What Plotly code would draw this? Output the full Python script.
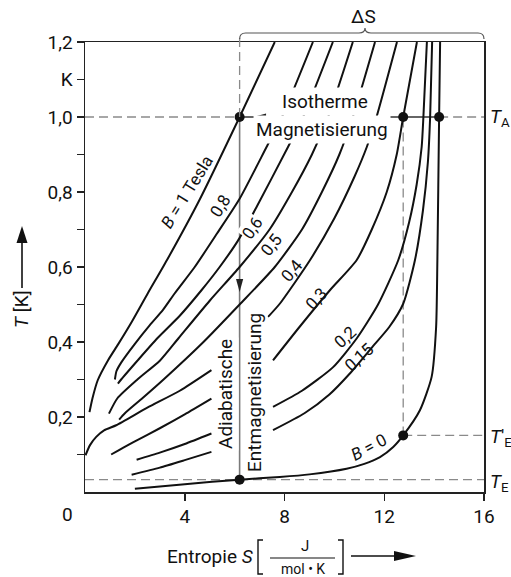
import plotly.graph_objects as go

# ---------------- data: entropy S [J/(mol K)] vs temperature T [K] ----------------
S_B10 = [0.18, 0.30, 0.51, 0.92, 1.32, 1.86, 2.52, 3.3, 4.6, 6.2, 7.61]
T_B10 = [0.213, 0.25, 0.298, 0.351, 0.393, 0.452, 0.53, 0.62, 0.78, 1.0, 1.2]

S_B08 = [1.2, 1.26, 1.45, 2.0, 2.6, 3.12, 3.6, 4.4, 5.3, 6.2, 7.28, 7.9, 9.14]
T_B08 = [0.300, 0.322, 0.345, 0.395, 0.445, 0.485, 0.53, 0.60, 0.69, 0.782, 0.92, 1.0, 1.2]

S_B07 = [1.32, 1.45, 2.1, 2.9, 3.8, 4.67, 5.4, 6.14, 6.88, 8.14, 8.75, 9.94]
T_B07 = [0.289, 0.30, 0.35, 0.41, 0.47, 0.538, 0.60, 0.671, 0.76, 0.92, 1.0, 1.2]

S_B06 = [0.96, 1.3, 2.1, 3.0, 3.75, 5.0, 6.2, 7.4, 8.3, 9.1, 9.75, 10.74]
T_B06 = [0.209, 0.25, 0.30, 0.35, 0.41, 0.51, 0.60, 0.70, 0.80, 0.90, 1.0, 1.2]

S_B05 = [1.37, 1.6, 2.3, 3.15, 4.75, 6.2, 7.61, 8.7, 9.5, 10.2, 10.74, 11.63]
T_B05 = [0.193, 0.21, 0.25, 0.30, 0.40, 0.50, 0.60, 0.70, 0.80, 0.90, 1.0, 1.2]

S_B04 = [0.02, 0.2, 0.45, 0.78, 1.25, 2.5, 3.8, 5.07, None, 7.34, 7.81, 9.02, 10.0, 10.8, 11.3, 11.69, 12.51]
T_B04 = [0.098, 0.125, 0.147, 0.165, 0.178, 0.225, 0.27, 0.325, None, 0.467, 0.502, 0.618, 0.73, 0.84, 0.92, 1.0, 1.2]

S_B03 = [1.05, 2.0, 3.0, 4.0, 5.07, None, 7.54, 8.6, 9.82, 10.89, 11.5, 12.1, 12.5, 12.76, 13.31]
T_B03 = [0.10, 0.135, 0.17, 0.207, 0.249, None, 0.351, 0.44, 0.538, 0.618, 0.70, 0.80, 0.90, 1.0, 1.2]

S_B02 = [2.07, 3.0, 4.0, 5.07, None, 7.54, 8.7, 9.95, 10.9, 11.75, 12.56, 13.0, 13.3, 13.5, 13.57, 13.71]
T_B02 = [0.086, 0.105, 0.128, 0.156, None, 0.227, 0.27, 0.333, 0.41, 0.50, 0.618, 0.72, 0.82, 0.92, 1.0, 1.2]

S_B015 = [1.87, 3.0, 4.0, 5.07, None, 7.54, 8.8, 9.8, 10.62, 11.5, 12.2, 12.76, 13.23, 13.55, 13.75, 13.84, 13.92]
T_B015 = [0.046, 0.065, 0.085, 0.107, None, 0.165, 0.21, 0.26, 0.316, 0.385, 0.44, 0.502, 0.618, 0.75, 0.88, 1.0, 1.2]

S_B0 = [2.0, 4.0, 6.2, 7.81, 9.0, 10.49, 11.2, 11.83, 12.36, 12.76, 13.43, 13.90, 14.08, 14.13, 14.2, 14.24]
T_B0 = [0.009, 0.021, 0.033, 0.040, 0.047, 0.062, 0.075, 0.093, 0.12, 0.151, 0.218, 0.307, 0.44, 0.618, 1.0, 1.2]

curves = [(S_B10, T_B10), (S_B08, T_B08), (S_B07, T_B07), (S_B06, T_B06), (S_B05, T_B05),
          (S_B04, T_B04), (S_B03, T_B03), (S_B02, T_B02), (S_B015, T_B015), (S_B0, T_B0)]

# process points
T_A = 1.0            # start temperature
T_E = 0.033          # end temperature (from B = 1 T)
T_E2 = 0.151         # end temperature (from B = 0,3 T)
S_1 = 6.2            # entropy on B = 1 T at T_A
S_2 = 12.76          # entropy on B = 0,3 T at T_A
S_0 = 14.2           # entropy on B = 0 at T_A
proc_S = [S_1, S_2, S_0, S_2, S_1]
proc_T = [T_A, T_A, T_A, T_E2, T_E]

# curve labels: (text, S, T, angle, knockout)
curve_labels = [("<i>B</i> = 1 Tesla", 4.08, 0.80, -58, False),
                ("0,8", 5.41, 0.763, -58, False),
                ("0,6", 6.70, 0.704, -55, True),
                ("0,5", 7.46, 0.659, -52, False),
                ("0,4", 8.30, 0.592, -50, False),
                ("0,3", 9.26, 0.515, -47, False),
                ("0,2", 10.43, 0.413, -42, False),
                ("0,15", 10.99, 0.36, -42, False),
                ("<i>B</i> = 0", 11.39, 0.12, -28, False)]

y_tickvals = [0.2, 0.4, 0.6, 0.8, 1.0, 1.1, 1.2]
y_ticktext = ["0,2", "0,4", "0,6", "0,8", "1,0", "K", "1,2"]
y_minorvals = [0.1, 0.3, 0.5, 0.7, 0.9]
x_tickvals = [4, 8, 12, 16]
x_ticktext = ["4", "8", "12", "16"]

# ---------------- layout geometry ----------------
W, H = 511, 577
ML, MR, MT, MB = 85, 27, 42, 85
PW, PH = W - ML - MR, H - MT - MB
XMAX, YMAX = 16, 1.2
FONT = "Roboto"
INK = "#111111"
GRAY = "#8a8a8a"


def X(S):
    return ML + S * PW / XMAX


def Y(T):
    return MT + PH - T * PH / YMAX


def P(px, py):
    return (px - ML) / PW, (MT + PH - py) / PH


def path_px(pts, close=False):
    s = ""
    for i, (a, b) in enumerate(pts):
        x, y = P(a, b)
        s += ("M" if i == 0 else "L") + f"{x:.5f},{y:.5f} "
    return s + ("Z" if close else "")


def head(tip, d, L, w):
    tx, ty = tip
    dx, dy = d
    bx, by = tx - L * dx, ty - L * dy
    nx, ny = -dy, dx
    return path_px([(tx, ty), (bx + w * nx, by + w * ny), (bx - w * nx, by - w * ny)], close=True)


fig = go.Figure()

for S, T in curves:
    fig.add_trace(go.Scatter(x=S, y=T, mode="lines", line=dict(color=INK, width=2, shape="spline", smoothing=0.6),
                             connectgaps=False, hoverinfo="skip", showlegend=False))

shapes = []
dash = "9px,5px"
# dashed guide lines
shapes.append(dict(type="line", xref="x", yref="y", x0=0, x1=S_1, y0=T_A, y1=T_A,
                   line=dict(color=GRAY, width=1.3, dash=dash), layer="below"))
shapes.append(dict(type="line", xref="x", yref="y", x0=S_0, x1=XMAX, y0=T_A, y1=T_A,
                   line=dict(color=GRAY, width=1.3, dash=dash), layer="below"))
shapes.append(dict(type="line", xref="x", yref="y", x0=0, x1=XMAX, y0=T_E, y1=T_E,
                   line=dict(color=GRAY, width=1.3, dash=dash), layer="below"))
shapes.append(dict(type="line", xref="x", yref="y", x0=S_2, x1=XMAX, y0=T_E2, y1=T_E2,
                   line=dict(color=GRAY, width=1.3, dash=dash), layer="below"))
shapes.append(dict(type="line", xref="x", yref="y", x0=S_2, x1=S_2, y0=T_E2, y1=T_A,
                   line=dict(color=GRAY, width=1.3, dash=dash), layer="below"))
shapes.append(dict(type="line", xref="paper", yref="paper", x0=S_1 / XMAX, x1=S_1 / XMAX,
                   y0=T_A / YMAX, y1=P(0, 36)[1], line=dict(color=GRAY, width=1.3, dash=dash)))
# adiabatic demagnetisation (vertical) and isothermal magnetisation (horizontal)
shapes.append(dict(type="line", xref="x", yref="y", x0=S_1, x1=S_1, y0=T_E, y1=T_A,
                   line=dict(color="#7a7a7a", width=1.6), layer="below"))
shapes.append(dict(type="line", xref="x", yref="y", x0=S_1, x1=7.54, y0=T_A, y1=T_A,
                   line=dict(color="#333333", width=1.5), layer="below"))
shapes.append(dict(type="line", xref="x", yref="y", x0=11.39, x1=S_0, y0=T_A, y1=T_A,
                   line=dict(color="#333333", width=1.5), layer="below"))
# arrow heads on process lines
shapes.append(dict(type="path", xref="paper", yref="paper",
                   path=head((X(6.74), Y(T_A)), (-1, 0), 13, 3.6), fillcolor="#222", line=dict(width=0)))
shapes.append(dict(type="path", xref="paper", yref="paper",
                   path=head((X(S_1), Y(0.533)), (0, 1), 13, 3.6), fillcolor="#222", line=dict(width=0)))
# Delta S brace
xa, xb, xc, yb = X(S_1), X(XMAX), 365, 33
bp = P(xa, 39); q1 = P(xa, yb); p1 = P(xa + 6, yb); p2 = P(xc - 6, yb); q2 = P(xc, yb); p3 = P(xc, 28)
p4 = P(xc + 6, yb); p5 = P(xb - 6, yb); q3 = P(xb, yb); p6 = P(xb, 39)
brace_path = (f"M{bp[0]:.5f},{bp[1]:.5f} Q{q1[0]:.5f},{q1[1]:.5f} {p1[0]:.5f},{p1[1]:.5f} "
              f"L{p2[0]:.5f},{p2[1]:.5f} Q{q2[0]:.5f},{q2[1]:.5f} {p3[0]:.5f},{p3[1]:.5f} "
              f"Q{q2[0]:.5f},{q2[1]:.5f} {p4[0]:.5f},{p4[1]:.5f} L{p5[0]:.5f},{p5[1]:.5f} "
              f"Q{q3[0]:.5f},{q3[1]:.5f} {p6[0]:.5f},{p6[1]:.5f}")
shapes.append(dict(type="path", xref="paper", yref="paper", path=brace_path, line=dict(color="#555", width=1.2)))

# axis title decorations
shapes.append(dict(type="path", xref="paper", yref="paper", path=path_px([(22, 288), (22, 240)]),
                   line=dict(color=INK, width=1.6)))
shapes.append(dict(type="path", xref="paper", yref="paper", path=head((22, 226), (0, -1), 17, 5.5),
                   fillcolor=INK, line=dict(width=0)))
shapes.append(dict(type="path", xref="paper", yref="paper", path=path_px([(351, 556), (400, 556)]),
                   line=dict(color=INK, width=1.6)))
shapes.append(dict(type="path", xref="paper", yref="paper", path=head((416, 556), (1, 0), 22, 5),
                   fillcolor=INK, line=dict(width=0)))
shapes.append(dict(type="path", xref="paper", yref="paper", path=path_px([(263, 540), (258, 540), (258, 574), (263, 574)]),
                   line=dict(color=INK, width=1.4)))
shapes.append(dict(type="path", xref="paper", yref="paper", path=path_px([(338, 540), (343, 540), (343, 574), (338, 574)]),
                   line=dict(color=INK, width=1.4)))
shapes.append(dict(type="path", xref="paper", yref="paper", path=path_px([(270, 558), (335, 558)]),
                   line=dict(color=INK, width=1.2)))

# process points (dots)
fig.add_trace(go.Scatter(x=proc_S, y=proc_T, mode="markers", marker=dict(color=INK, size=10),
                         hoverinfo="skip", showlegend=False, cliponaxis=False))

ann = []
for txt, s, t, ang, ko in curve_labels:
    d = dict(x=s, y=t, xref="x", yref="y", text=txt, showarrow=False, textangle=ang,
             font=dict(family=FONT, size=17, color=INK))
    if ko:
        d.update(bgcolor="white", borderpad=0)
    ann.append(d)


def pann(txt, px, py, size=19, angle=0, bg=None, xanchor="center", pad=1, yanchor="middle"):
    x, y = P(px, py)
    d = dict(x=x, y=y, xref="paper", yref="paper", text=txt, showarrow=False, textangle=angle,
             font=dict(family=FONT, size=size, color=INK), xanchor=xanchor, yanchor=yanchor)
    if bg:
        d.update(bgcolor=bg, borderpad=pad)
    return d


ann += [
    pann("Isotherme", 325, 102, bg="white", pad=2),
    pann("Magnetisierung", 322, 129, bg="white", pad=2),
    pann("Adiabatische", 225, 394, angle=-90, bg="white"),
    pann("Entmagnetisierung", 254, 393, angle=-90, bg="white"),
    pann("ΔS", 363, 17),
    pann("<i>T</i><sub>A</sub>", 488, 118, xanchor="left"),
    pann("<i>T</i>'<sub>E</sub>", 488, 437, xanchor="left"),
    pann("<i>T</i><sub>E</sub>", 488, 482, xanchor="left"),
    pann("0", 67, 514),
    pann("<i>T</i> [K]", 22, 309, angle=-90),
    pann("Entropie <i>S</i>", 210, 556),
    pann("J", 305, 557, size=15, yanchor="bottom", pad=0),
    pann("mol • K", 303, 559, size=14, yanchor="top", pad=0),
]

tick_common = dict(ticks="outside", ticklen=7, tickwidth=1.5, tickcolor="#222", showline=True, linecolor="#222",
                   linewidth=1.5, mirror=True, showgrid=False, zeroline=False, fixedrange=True,
                   tickfont=dict(family=FONT, size=19, color=INK))

fig.update_layout(
    width=W, height=H, margin=dict(l=ML, r=MR, t=MT, b=MB, pad=0),
    paper_bgcolor="white", plot_bgcolor="white", showlegend=False,
    font=dict(family=FONT, size=19, color=INK),
    shapes=shapes, annotations=ann,
    xaxis=dict(range=[0, XMAX], tickvals=x_tickvals, ticktext=x_ticktext, **tick_common),
    yaxis=dict(range=[0, YMAX], tickvals=y_tickvals, ticktext=y_ticktext,
               minor=dict(tickvals=y_minorvals, ticks="outside", ticklen=7, tickwidth=1.5, tickcolor="#222",
                          showgrid=False),
               **tick_common),
)

fig.write_html("out.html", config={"staticPlot": True},
               post_script="document.body.style.margin='0px';document.body.style.overflow='hidden';")
